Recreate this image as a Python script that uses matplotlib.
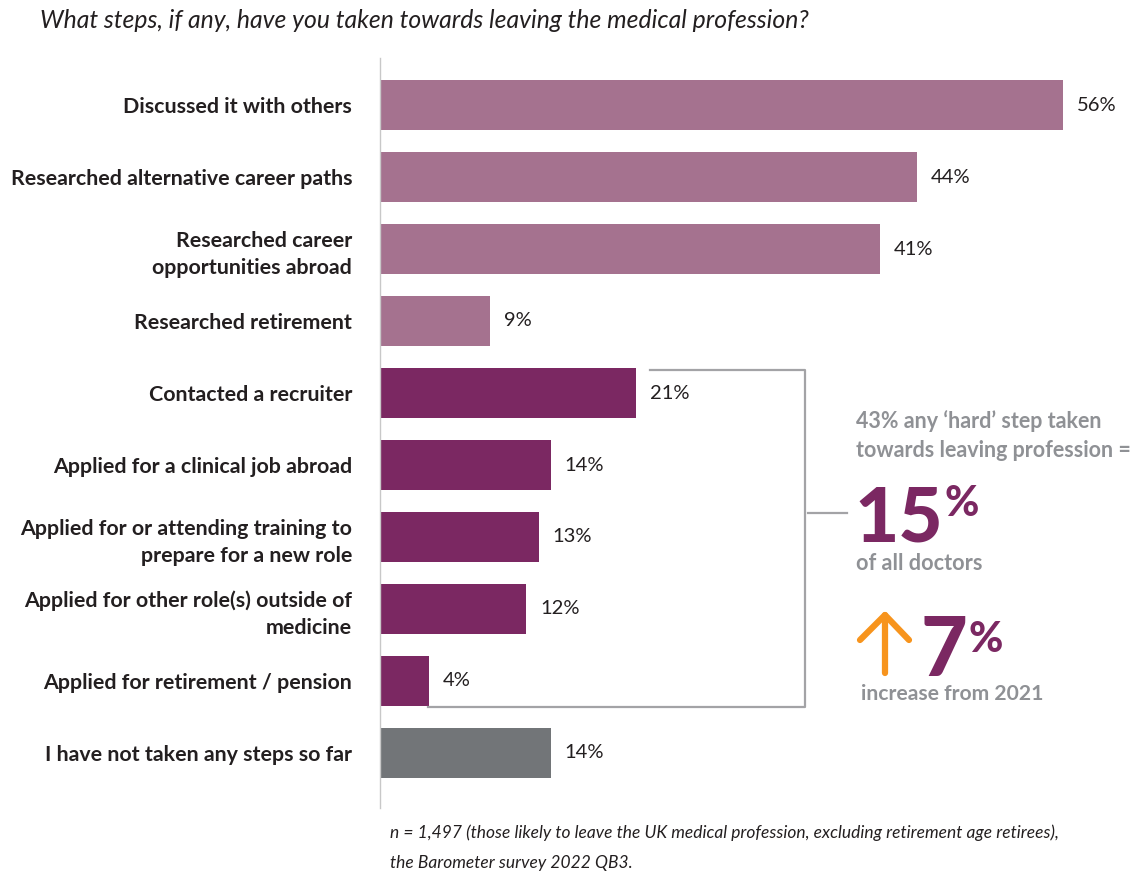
import matplotlib
matplotlib.use("Agg")
import matplotlib.pyplot as plt
from matplotlib.lines import Line2D

plt.rcParams['font.family'] = ['Lato', 'DejaVu Sans']

# --- data -------------------------------------------------------------
categories = [
    "Discussed it with others",
    "Researched alternative career paths",
    "Researched career\nopportunities abroad",
    "Researched retirement",
    "Contacted a recruiter",
    "Applied for a clinical job abroad",
    "Applied for or attending training to\nprepare for a new role",
    "Applied for other role(s) outside of\nmedicine",
    "Applied for retirement / pension",
    "I have not taken any steps so far",
]
values = [56, 44, 41, 9, 21, 14, 13, 12, 4, 14]
groups = ["soft", "soft", "soft", "soft", "hard", "hard", "hard", "hard", "hard", "none"]

title = "What steps, if any, have you taken towards leaving the medical profession?"
footnote_lines = ["n = 1,497 (those likely to leave the UK medical profession, excluding retirement age retirees),",
                  "the Barometer survey 2022 QB3."]
hard_share_lines = ["43% any \u2018hard\u2019 step taken", "towards leaving profession ="]
headline_value = 15
headline_sub = "of all doctors"
change_value = 7
change_sub = "increase from 2021"

colors = {"soft": "#a5728f", "hard": "#7b2862", "none": "#727578"}
grey_text = "#8f9195"
purple = "#7b2862"
orange = "#f7941d"
ink = "#231f20"

# --- figure -----------------------------------------------------------
W, H = 1137, 874
fig = plt.figure(figsize=(W / 100, H / 100), dpi=100)


def fx(x):
    return x / W


def fy(y):
    return 1 - y / H


ax_left, ax_right, ax_top, ax_bot = 380, 1137, 58, 808
ax = fig.add_axes([fx(ax_left), fy(ax_bot), (ax_right - ax_left) / W, (ax_bot - ax_top) / H])

px_per_pct = 12.2
row_px = 72
first_row = 105
ax.set_xlim(0, (ax_right - ax_left) / px_per_pct)
ax.set_ylim((ax_bot - first_row) / row_px, -(first_row - ax_top) / row_px)

ypos = list(range(len(values)))
ax.barh(ypos, values, height=0.70, color=[colors[g] for g in groups], left=0)

for y, v in zip(ypos, values):
    ax.text(v + 1.15, y, f"{v}%", va="center", ha="left", fontsize=14.5, color=ink)

ax.set_yticks(ypos)
ax.set_yticklabels(categories, fontsize=15.4, fontweight="bold", color=ink,
                   linespacing=1.42)
ax.tick_params(axis="y", length=0, pad=20)
ax.set_xticks([])
for s in ["top", "right", "bottom"]:
    ax.spines[s].set_visible(False)
ax.spines["left"].set_color("#c8c8c8")
ax.spines["left"].set_linewidth(1.0)
for lbl in ax.get_yticklabels():
    lbl.set_horizontalalignment("right")

# --- bracket around the 'hard' steps -----------------------------------
lc = "#a3a3a6"
fig.add_artist(Line2D([fx(650), fx(805), fx(805), fx(428)],
                      [fy(370), fy(370), fy(707), fy(707)], color=lc, lw=1.6))
fig.add_artist(Line2D([fx(808), fx(847)], [fy(513), fy(513)], color=lc, lw=1.6))

# --- callout ----------------------------------------------------------
for i, line in enumerate(hard_share_lines):
    fig.text(fx(856), fy(421 + 30 * i), line, fontsize=15.5, fontweight="bold",
             color=grey_text, ha="left", va="center")
fig.text(fx(854), fy(541), f"{headline_value}", fontsize=55, fontweight="black",
         color=purple, ha="left", va="baseline")
fig.text(fx(944), fy(516), "%", fontsize=30, fontweight="black",
         color=purple, ha="left", va="baseline")
fig.text(fx(856), fy(564), headline_sub, fontsize=15.6, fontweight="bold",
         color=grey_text, ha="left", va="center")

# up arrow
aw = dict(color=orange, lw=4.5, solid_capstyle="round", solid_joinstyle="round")
fig.add_artist(Line2D([fx(885), fx(885)], [fy(673), fy(615)], **aw))
fig.add_artist(Line2D([fx(860), fx(885), fx(909)], [fy(640), fy(615), fy(640)], **aw))

fig.text(fx(921), fy(676), f"{change_value}", fontsize=58, fontweight="black",
         color=purple, ha="left", va="baseline")
fig.text(fx(968), fy(652), "%", fontsize=30, fontweight="black",
         color=purple, ha="left", va="baseline")
fig.text(fx(861), fy(694), change_sub, fontsize=15.2, fontweight="bold",
         color=grey_text, ha="left", va="center")

# --- title and footnote -----------------------------------------------
fig.text(fx(40), fy(21), title, fontsize=17.8, fontstyle="italic", color=ink,
         ha="left", va="center")
for i, line in enumerate(footnote_lines):
    fig.text(fx(390), fy(833 + 30 * i), line, fontsize=12.5, fontstyle="italic",
             color=ink, ha="left", va="center")

fig.savefig("out.png", dpi=100)
